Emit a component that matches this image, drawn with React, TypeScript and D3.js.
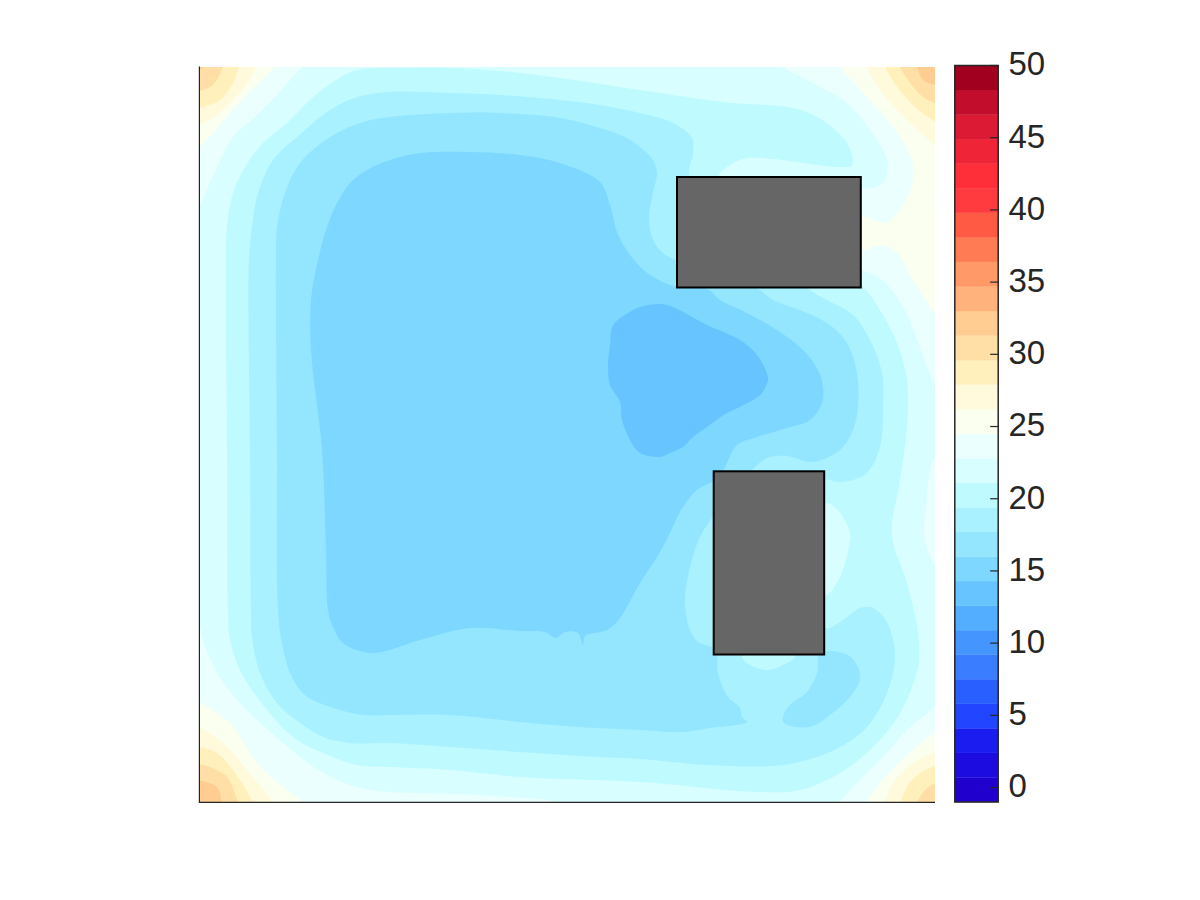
import React from 'react'
import * as d3 from 'd3'

type Pt = [number, number]

// colorbar levels, low to high
const barColors = [
  '#2000cc', '#1c0ce0', '#1a1cf0', '#2245ff', '#2a5fff', '#3a7eff', '#4595ff', '#54aeff',
  '#68c4ff', '#7dd7ff', '#94e6ff', '#a9f1ff', '#bffaff', '#d9feff', '#ebfffe', '#fbfff0',
  '#fffadb', '#fff0bc', '#ffdfa5', '#ffcc92', '#ffb27c', '#ff9a68', '#ff7b53', '#ff5a44',
  '#ff3b3f', '#ff2f3a', '#f02437', '#dd1a33', '#c20d2c', '#a1001f',
]
const barDomain: [number, number] = [-1, 50]
const barTicks = [0, 5, 10, 15, 20, 25, 30, 35, 40, 45, 50]

// room is measured in grid units, origin bottom left
const roomX: [number, number] = [0, 736]
const roomY: [number, number] = [0, 735]

// obstacles: x0, x1, y0, y1
const obstacles = [
  [478, 661.8, 514.5, 625],
  [514.7, 625.2, 147.5, 330.7],
]

// warm corners
const topLeft25: Pt[] = [[-10, 745], [84, 745], [76, 735], [63, 722], [46, 705], [31, 689], [14, 669], [0, 654], [-10, 644]]
const topLeft27: Pt[] = [[-10, 745], [62, 745], [57, 735], [49, 719], [34, 702], [18, 687], [0, 677], [-10, 672]]
const topLeft29: Pt[] = [[-10, 745], [44, 745], [40, 735], [34, 719], [21, 702], [0, 694], [-10, 690]]
const topLeft30: Pt[] = [[-10, 745], [28, 745], [24, 735], [19, 724], [11, 715], [0, 711], [-10, 708]]
const topLeft32: Pt[] = [[-10, 745], [5, 745], [4, 735], [0, 731], [-10, 729]]

const botLeft25: Pt[] = [[-10, -10], [110, -10], [103, 0], [84, 15], [58, 39], [31, 79], [0, 100], [-10, 106]]
const botLeft27: Pt[] = [[-10, -10], [80, -10], [74, 0], [48, 32], [24, 59], [0, 75], [-10, 80]]
const botLeft29: Pt[] = [[-10, -10], [60, -10], [54, 0], [41, 22], [18, 49], [0, 55], [-10, 58]]
const botLeft30: Pt[] = [[-10, -10], [44, -10], [39, 0], [28, 25], [11, 35], [0, 38], [-10, 41]]
const botLeft32: Pt[] = [[-10, -10], [27, -10], [23, 0], [18, 15], [0, 22], [-10, 25]]

const botRight25: Pt[] = [[746, -10], [660, -10], [667, 0], [681, 19], [706, 45], [726, 62], [736, 69], [746, 75]]
const botRight27: Pt[] = [[746, -10], [680, -10], [685, 0], [696, 22], [716, 40], [736, 50], [746, 54]]
const botRight29: Pt[] = [[746, -10], [696, -10], [701, 0], [711, 20], [726, 32], [736, 36], [746, 39]]
const botRight30: Pt[] = [[746, -10], [713, -10], [718, 0], [726, 12], [736, 19], [746, 23]]

const topRight25: Pt[] = [
  [746, 745], [636, 745], [641, 735], [668, 705], [694, 675], [713, 642], [714, 622], [701, 592], [686, 579], [663, 585],
  [650, 570], [663, 552], [681, 557], [698, 549], [714, 522], [736, 489], [746, 480],
]
const topRight27: Pt[] = [[746, 745], [663, 745], [668, 735], [681, 712], [701, 689], [736, 657], [746, 650]]
const topRight29: Pt[] = [[746, 745], [681, 745], [686, 735], [698, 715], [714, 697], [736, 680], [746, 674]]
const topRight30: Pt[] = [[746, 745], [696, 745], [701, 735], [711, 719], [724, 705], [736, 699], [746, 695]]
const topRight32: Pt[] = [[746, 745], [713, 745], [718, 735], [724, 722], [736, 717], [746, 713]]

// cool regions, nested
const ring22: Pt[] = [
  [-9, 574], [0, 594], [18, 635], [34, 665], [58, 687], [78, 707], [91, 722], [103, 735], [113, 747], [341, 752], [571, 747],
  [584, 735], [614, 719], [648, 699], [671, 672], [688, 642], [686, 622], [674, 614], [656, 612], [651, 532], [662, 532],
  [683, 522], [704, 495], [721, 455], [736, 417], [746, 407], [746, 352], [734, 342], [728, 305], [726, 262], [734, 240],
  [746, 222], [746, 112], [736, 96], [708, 72], [681, 42], [654, 15], [641, 0], [631, -13], [381, -13], [356, 0], [311, 5],
  [251, 8], [191, 10], [158, 15], [124, 29], [84, 59], [41, 99], [18, 129], [4, 162], [0, 179], [-9, 197], [-14, 402],
]
const ring20: Pt[] = [
  [27, 542], [28, 575], [34, 609], [46, 635], [64, 659], [88, 679], [111, 702], [134, 720], [158, 732], [201, 734], [251, 734],
  [301, 731], [361, 724], [441, 712], [524, 700], [608, 690], [648, 659], [653, 637], [641, 635], [574, 643], [548, 644],
  [528, 635], [520, 625], [581, 572], [662, 517], [681, 492], [698, 459], [708, 422], [708, 375], [701, 322], [693, 267],
  [708, 219], [719, 169], [719, 135], [701, 89], [674, 55], [641, 29], [601, 12], [558, 10], [441, 20], [321, 25], [251, 32],
  [191, 35], [158, 37], [124, 49], [94, 65], [58, 105], [41, 132], [31, 162], [29, 192], [28, 352],
]
const island22: Pt[] = [[626, 299], [641, 289], [651, 269], [651, 262], [641, 225], [626, 207], [601, 252]]
const ring19: Pt[] = [
  [50, 542], [53, 575], [59, 609], [74, 642], [98, 665], [131, 692], [158, 705], [191, 710], [251, 709], [301, 707], [361, 702],
  [401, 697], [441, 689], [474, 679], [493, 664], [494, 649], [491, 625], [560, 560], [608, 514], [628, 502], [654, 487],
  [671, 462], [683, 429], [684, 395], [681, 355], [668, 329], [654, 322], [638, 320], [626, 322], [571, 252], [626, 174],
  [641, 180], [661, 194], [674, 194], [688, 180], [696, 145], [688, 109], [668, 75], [641, 55], [608, 42], [574, 36], [508, 37],
  [441, 43], [381, 46], [321, 50], [251, 55], [191, 59], [151, 59], [124, 65], [104, 77], [78, 99], [61, 129], [53, 165],
  [52, 192], [51, 352],
]
const island20: Pt[] = [[543, 146], [551, 137], [569, 132], [584, 137], [596, 146], [569, 170]]
const ring17: Pt[] = [
  [77, 542], [78, 575], [86, 609], [101, 639], [131, 665], [164, 680], [191, 685], [251, 689], [301, 689], [361, 684], [401, 674],
  [426, 665], [441, 655], [454, 642], [458, 629], [454, 609], [450, 585], [454, 562], [464, 549], [477, 542], [520, 530],
  [558, 514], [574, 502], [601, 492], [628, 479], [648, 459], [658, 429], [659, 395], [654, 372], [641, 352], [614, 340],
  [588, 346], [568, 344], [554, 333], [540, 320], [513, 284], [501, 265], [491, 235], [486, 199], [491, 172], [499, 160],
  [514, 154], [518, 146], [519, 129], [529, 105], [541, 94], [543, 85], [548, 80], [511, 74], [484, 70], [441, 72], [381, 75],
  [321, 80], [251, 87], [191, 87], [164, 87], [134, 94], [106, 107], [91, 129], [83, 159], [79, 192], [78, 352],
]
const island17: Pt[] = [
  [621, 149], [649, 147], [659, 135], [661, 122], [651, 105], [631, 87], [611, 75], [584, 80], [589, 95], [608, 110], [618, 129],
]
const ring15: Pt[] = [
  [119, 542], [128, 575], [138, 599], [151, 619], [168, 632], [191, 642], [221, 649], [271, 650], [321, 647], [361, 639], [401, 620],
  [411, 597], [418, 570], [431, 547], [451, 527], [478, 515], [508, 513], [521, 502], [548, 489], [578, 472], [604, 452], [619, 432],
  [624, 415], [623, 399], [611, 382], [588, 374], [558, 365], [538, 357], [526, 335], [519, 324], [498, 312], [484, 295], [469, 265],
  [458, 245], [441, 219], [421, 184], [408, 172], [386, 166], [384, 157], [379, 169], [366, 170], [357, 164], [346, 170], [321, 171],
  [271, 174], [221, 162], [173, 149], [144, 159], [134, 175], [129, 192], [127, 252], [123, 352], [112, 452], [112, 502],
]
const ring13: Pt[] = [
  [441, 495], [461, 498], [474, 495], [508, 477], [541, 462], [558, 447], [569, 424], [566, 414], [561, 407], [541, 395], [528, 389],
  [508, 375], [494, 365], [484, 355], [471, 349], [461, 345], [441, 349], [431, 362], [423, 382], [421, 400], [411, 417], [409, 437],
  [411, 457], [414, 477], [426, 487],
]

// paint order, value is the temperature of the region
const baseValue = 23.65
const regions: { value: number; ring: Pt[] }[] = [
  { value: 25.35, ring: topLeft25 }, { value: 25.35, ring: botLeft25 }, { value: 25.35, ring: botRight25 }, { value: 25.35, ring: topRight25 },
  { value: 27.05, ring: topLeft27 }, { value: 27.05, ring: botLeft27 }, { value: 27.05, ring: botRight27 }, { value: 27.05, ring: topRight27 },
  { value: 28.75, ring: topLeft29 }, { value: 28.75, ring: botLeft29 }, { value: 28.75, ring: botRight29 }, { value: 28.75, ring: topRight29 },
  { value: 30.45, ring: topLeft30 }, { value: 30.45, ring: botLeft30 }, { value: 30.45, ring: botRight30 }, { value: 30.45, ring: topRight30 },
  { value: 32.15, ring: topLeft32 }, { value: 32.15, ring: botLeft32 }, { value: 32.15, ring: topRight32 },
  { value: 21.95, ring: ring22 },
  { value: 20.25, ring: ring20 },
  { value: 21.95, ring: island22 },
  { value: 18.55, ring: ring19 },
  { value: 20.25, ring: island20 },
  { value: 16.85, ring: ring17 },
  { value: 16.85, ring: island17 },
  { value: 15.15, ring: ring15 },
  { value: 13.45, ring: ring13 },
]

const plot = { left: 199, right: 935, top: 67, bottom: 802 }
const bar = { left: 954.8, right: 998.2, top: 65.5, bottom: 802 }
const ink = '#262626'

export default function App() {
  const x = d3.scaleLinear().domain(roomX).range([plot.left, plot.right])
  const y = d3.scaleLinear().domain(roomY).range([plot.bottom, plot.top])
  const barY = d3.scaleLinear().domain(barDomain).range([bar.bottom, bar.top])
  const color = d3.scaleQuantize<string>().domain(barDomain).range(barColors)
  const bandStep = (barDomain[1] - barDomain[0]) / barColors.length

  const ringPath = d3
    .line<Pt>()
    .x((d) => x(d[0]))
    .y((d) => y(d[1]))
    .curve(d3.curveCatmullRomClosed.alpha(0.5))

  return (
    <svg
      width={1200}
      height={900}
      style={{ position: 'absolute', left: 0, top: 0, display: 'block', background: '#fff' }}
    >
      <defs>
        <clipPath id="room">
          <rect x={plot.left} y={plot.top} width={plot.right - plot.left} height={plot.bottom - plot.top} />
        </clipPath>
      </defs>

      <g clipPath="url(#room)">
        <rect
          x={plot.left}
          y={plot.top}
          width={plot.right - plot.left}
          height={plot.bottom - plot.top}
          fill={color(baseValue)}
        />
        {regions.map((r, i) => (
          <path key={i} d={ringPath(r.ring) ?? ''} fill={color(r.value)} />
        ))}
      </g>

      {obstacles.map((o, i) => (
        <rect
          key={i}
          x={x(o[0])}
          y={y(o[3])}
          width={x(o[1]) - x(o[0])}
          height={y(o[2]) - y(o[3])}
          fill="#666666"
          stroke="#000"
          strokeWidth={2}
        />
      ))}

      {/* axes have no ticks, only the left and bottom lines */}
      <line x1={plot.left + 0.4} x2={plot.left + 0.4} y1={plot.top - 0.5} y2={plot.bottom + 0.9} stroke={ink} strokeWidth={1.2} />
      <line x1={plot.left} x2={plot.right} y1={plot.bottom + 0.4} y2={plot.bottom + 0.4} stroke={ink} strokeWidth={1.2} />

      {barColors.map((c, i) => {
        const low = barDomain[0] + i * bandStep
        return (
          <rect
            key={c}
            x={bar.left}
            width={bar.right - bar.left}
            y={barY(low + bandStep)}
            height={barY(low) - barY(low + bandStep)}
            fill={c}
            stroke={c}
            strokeWidth={0.3}
          />
        )
      })}
      <rect
        x={bar.left}
        y={bar.top}
        width={bar.right - bar.left}
        height={bar.bottom - bar.top}
        fill="none"
        stroke={ink}
        strokeWidth={1.5}
      />
      {barTicks.map((t) => (
        <g key={t} transform={`translate(0,${barY(t)})`}>
          <line x1={bar.right - 8} x2={bar.right} stroke={ink} strokeWidth={1.2} />
          <text
            x={1008.5}
            dy="0.3em"
            fill={ink}
            fontSize={33}
            fontFamily="'Liberation Sans', Arial, sans-serif"
          >
            {t}
          </text>
        </g>
      ))}
    </svg>
  )
}
